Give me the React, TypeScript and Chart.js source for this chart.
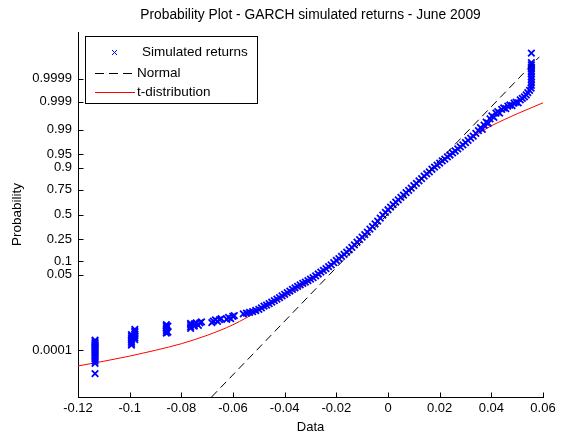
import React, { useEffect, useRef } from 'react';
import { Chart, registerables } from 'chart.js';

Chart.register(...registerables);

const TITLE = 'Probability Plot - GARCH simulated returns - June 2009';
const X_LABEL = 'Data';
const Y_LABEL = 'Probability';
const FONT = '"Liberation Sans", Arial, Helvetica, sans-serif';

const xTickValues = [-0.12, -0.1, -0.08, -0.06, -0.04, -0.02, 0, 0.02, 0.04, 0.06];
const xTickLabels = ['-0.12', '-0.1', '-0.08', '-0.06', '-0.04', '-0.02', '0', '0.02', '0.04', '0.06'];
const probTicks = [0.0001, 0.05, 0.1, 0.25, 0.5, 0.75, 0.9, 0.95, 0.99, 0.999, 0.9999];
const probLabels = ['0.0001', '0.05', '0.1', '0.25', '0.5', '0.75', '0.9', '0.95', '0.99', '0.999', '0.9999'];

// Sorted simulated returns and the normal scores of their plotting positions
const returns = [
  -0.1134, -0.1134, -0.1134, -0.1134, -0.1134, -0.1134, -0.1134, -0.1134, -0.1134, -0.1134, -0.1134, -0.1134, -0.1134, -0.1134, -0.1134, -0.1134,
  -0.0993, -0.0993, -0.0993, -0.0993, -0.0993, -0.0993, -0.0993,
  -0.0980, -0.0980, -0.0980, -0.0980, -0.0980, -0.0980, -0.0980,
  -0.0858, -0.0858, -0.0858, -0.0858, -0.0858, -0.0858, -0.0852, -0.0852,
  -0.0764, -0.0764, -0.0764, -0.0764, -0.0750, -0.0750, -0.0742, -0.0734, -0.0728, -0.0722,
  -0.0682, -0.0676, -0.0668, -0.0660, -0.0652, -0.0646,
  -0.0624, -0.0617, -0.0609, -0.0601, -0.0595,
  -0.0560, -0.0548, -0.0536, -0.0524, -0.0512, -0.0500, -0.0490, -0.0480, -0.0470, -0.0460,
  -0.0450, -0.0440, -0.0430, -0.0420, -0.0410, -0.0400, -0.0390, -0.0380, -0.0370, -0.0360,
  -0.0350, -0.0340, -0.0330, -0.0320, -0.0310, -0.0300, -0.0290, -0.0280, -0.0270, -0.0260,
  -0.0250, -0.0240, -0.0230, -0.0220, -0.0210, -0.0200, -0.0190, -0.0180, -0.0170, -0.0160,
  -0.0150, -0.0140, -0.0130, -0.0120, -0.0110, -0.0100, -0.0090, -0.0080, -0.0070, -0.0060,
  -0.0050, -0.0040, -0.0030, -0.0020, -0.0010, 0.0000, 0.0010, 0.0020, 0.0030, 0.0040,
  0.0050, 0.0060, 0.0070, 0.0080, 0.0090, 0.0100, 0.0110, 0.0120, 0.0130, 0.0140,
  0.0150, 0.0160, 0.0170, 0.0180, 0.0190, 0.0200, 0.0210, 0.0220, 0.0230, 0.0240,
  0.0250, 0.0260, 0.0270, 0.0280, 0.0290, 0.0300, 0.0310, 0.0320, 0.0330, 0.0340, 0.0350,
  0.0358, 0.0365, 0.0372, 0.0380, 0.0388, 0.0395, 0.0402, 0.0410, 0.0418, 0.0425,
  0.0432, 0.0440, 0.0448, 0.0456, 0.0464, 0.0472, 0.0480, 0.0488, 0.0496, 0.0504,
  0.0512, 0.0520, 0.0528, 0.0535, 0.0541, 0.0548, 0.0554,
  0.0555, 0.0555, 0.0555, 0.0555, 0.0555, 0.0555, 0.0555, 0.0555, 0.0555, 0.0555, 0.0555,
];
const returnScores = [
  -4.36, -4.08, -4.02, -3.96, -3.90, -3.85, -3.80, -3.76, -3.72, -3.68, -3.64, -3.60, -3.56, -3.52, -3.48, -3.44,
  -3.58, -3.53, -3.48, -3.43, -3.38, -3.33, -3.29,
  -3.43, -3.38, -3.33, -3.28, -3.23, -3.19, -3.15,
  -3.25, -3.20, -3.15, -3.10, -3.05, -3.02, -3.22, -3.06,
  -3.12, -3.07, -3.02, -2.98, -3.06, -3.00, -2.97, -3.04, -2.97, -2.94,
  -2.96, -2.92, -2.89, -2.93, -2.88, -2.85,
  -2.87, -2.82, -2.85, -2.79, -2.77,
  -2.72, -2.70, -2.68, -2.66, -2.63, -2.60, -2.56, -2.51, -2.48, -2.44,
  -2.40, -2.36, -2.32, -2.28, -2.23, -2.19, -2.14, -2.10, -2.05, -2.01,
  -1.97, -1.93, -1.89, -1.85, -1.81, -1.77, -1.73, -1.68, -1.63, -1.58,
  -1.53, -1.48, -1.43, -1.38, -1.32, -1.26, -1.21, -1.15, -1.09, -1.03,
  -0.97, -0.90, -0.83, -0.76, -0.69, -0.62, -0.55, -0.48, -0.40, -0.33,
  -0.26, -0.18, -0.10, -0.02, 0.06, 0.13, 0.20, 0.27, 0.34, 0.40,
  0.47, 0.53, 0.60, 0.66, 0.72, 0.79, 0.85, 0.92, 0.98, 1.05,
  1.11, 1.17, 1.24, 1.30, 1.35, 1.41, 1.47, 1.52, 1.58, 1.63,
  1.69, 1.74, 1.80, 1.85, 1.91, 1.97, 2.03, 2.09, 2.15, 2.22, 2.30,
  2.38, 2.33, 2.45, 2.53, 2.50, 2.62, 2.70, 2.66, 2.78, 2.82,
  2.78, 2.88, 2.92, 2.90, 2.97, 3.00, 2.98, 3.05, 3.08, 3.06,
  3.14, 3.18, 3.22, 3.28, 3.34, 3.40, 3.46,
  3.54, 3.62, 3.70, 3.78, 3.86, 3.92, 3.98, 4.04, 4.10, 4.16, 4.42,
];

// Fitted normal reference line (end points)
const normalX = [-0.0683, 0.0586];
const normalScores = [-5.0, 4.32];

// Fitted t-distribution curve
const tDistX = [-0.12, -0.11, -0.10, -0.09, -0.08, -0.07, -0.06, -0.05, -0.045, -0.04, -0.035, -0.03, -0.025, -0.02, -0.015, -0.01, -0.005, 0, 0.005, 0.01, 0.015, 0.02, 0.025, 0.03, 0.035, 0.04, 0.045, 0.05, 0.055, 0.06];
const tDistScores = [-4.15, -4.02, -3.88, -3.72, -3.54, -3.31, -3.02, -2.64, -2.45, -2.25, -2.05, -1.82, -1.57, -1.30, -1.00, -0.66, -0.28, 0.10, 0.45, 0.78, 1.10, 1.42, 1.70, 1.97, 2.22, 2.43, 2.60, 2.76, 2.91, 3.06];

// Inverse standard normal CDF (Acklam's rational approximation)
function probit(p: number): number {
  const a = [-39.69683028665376, 220.9460984245205, -275.9285104469687, 138.357751867269, -30.66479806614716, 2.506628277459239];
  const b = [-54.47609879822406, 161.5858368580409, -155.6989798598866, 66.80131188771972, -13.28068155288572];
  const c = [-0.007784894002430293, -0.3223964580411365, -2.400758277161838, -2.549732539343734, 4.374664141464968, 2.938163982698783];
  const d = [0.007784695709041462, 0.3224671290700398, 2.445134137142996, 3.754408661907416];
  const pl = 0.02425;
  if (p < pl) {
    const q = Math.sqrt(-2 * Math.log(p));
    return (((((c[0] * q + c[1]) * q + c[2]) * q + c[3]) * q + c[4]) * q + c[5]) / ((((d[0] * q + d[1]) * q + d[2]) * q + d[3]) * q + 1);
  }
  if (p > 1 - pl) {
    const q = Math.sqrt(-2 * Math.log(1 - p));
    return -(((((c[0] * q + c[1]) * q + c[2]) * q + c[3]) * q + c[4]) * q + c[5]) / ((((d[0] * q + d[1]) * q + d[2]) * q + d[3]) * q + 1);
  }
  const q = p - 0.5;
  const r = q * q;
  return (((((a[0] * r + a[1]) * r + a[2]) * r + a[3]) * r + a[4]) * r + a[5]) * q / (((((b[0] * r + b[1]) * r + b[2]) * r + b[3]) * r + b[4]) * r + 1);
}

const pairs = (xs: number[], ys: number[]) => xs.map((x, i) => ({ x, y: ys[i] }));

const BLUE = '#0000ff';
const RED = '#ff0000';

// Tick marks drawn on the inside of the axes
const inwardTicks = {
  id: 'inwardTicks',
  afterDatasetsDraw(chart: any) {
    const { ctx, chartArea, scales } = chart;
    ctx.save();
    ctx.strokeStyle = '#000';
    ctx.lineWidth = 1;
    ctx.beginPath();
    const left = Math.round(chartArea.left) + 0.5;
    const bottom = Math.round(chartArea.bottom) + 0.5;
    for (const t of scales.y.ticks) {
      const y = Math.round(scales.y.getPixelForValue(t.value)) + 0.5;
      ctx.moveTo(left, y);
      ctx.lineTo(left + 5, y);
    }
    for (const t of scales.x.ticks) {
      const x = Math.round(scales.x.getPixelForValue(t.value)) + 0.5;
      ctx.moveTo(x, bottom);
      ctx.lineTo(x, bottom - 5);
    }
    ctx.stroke();
    ctx.restore();
  },
};

// Title centred over the axes, plus the boxed legend in the top-left corner
const titleAndLegend = {
  id: 'titleAndLegend',
  afterDraw(chart: any) {
    const { ctx, chartArea } = chart;
    ctx.save();
    ctx.fillStyle = '#000';
    ctx.font = `13.8px ${FONT}`;
    ctx.textAlign = 'center';
    ctx.textBaseline = 'middle';
    ctx.fillText(TITLE, (chartArea.left + chartArea.right) / 2, 15);

    const bx = Math.round(chartArea.left) + 7;
    const by = Math.round(chartArea.top) + 4;
    ctx.fillStyle = '#fff';
    ctx.fillRect(bx, by, 172, 67);
    ctx.strokeStyle = '#000';
    ctx.lineWidth = 1;
    ctx.strokeRect(bx + 0.5, by + 0.5, 172, 67);

    const ds = chart.data.datasets;
    ctx.font = `13.5px ${FONT}`;
    ctx.textAlign = 'left';
    ctx.fillStyle = '#000';

    // scatter marker entry
    const y1 = by + 16.5;
    ctx.strokeStyle = BLUE;
    ctx.beginPath();
    ctx.moveTo(bx + 27, y1 - 2.5);
    ctx.lineTo(bx + 32, y1 + 2.5);
    ctx.moveTo(bx + 32, y1 - 2.5);
    ctx.lineTo(bx + 27, y1 + 2.5);
    ctx.stroke();
    ctx.fillText(ds[0].label, bx + 57, y1);

    // dashed normal line entry
    const y2 = by + 37.5;
    ctx.strokeStyle = '#000';
    ctx.setLineDash([9, 5]);
    ctx.beginPath();
    ctx.moveTo(bx + 10, y2);
    ctx.lineTo(bx + 50, y2);
    ctx.stroke();
    ctx.setLineDash([]);
    ctx.fillText(ds[1].label, bx + 52, y2);

    // t-distribution entry
    const y3 = by + 56.5;
    ctx.strokeStyle = RED;
    ctx.beginPath();
    ctx.moveTo(bx + 10, y3);
    ctx.lineTo(bx + 50, y3);
    ctx.stroke();
    ctx.fillText(ds[2].label, bx + 52, y3);
    ctx.restore();
  },
};

export default function App() {
  const canvasRef = useRef<HTMLCanvasElement | null>(null);

  useEffect(() => {
    const canvas = canvasRef.current;
    if (!canvas) return;
    const chart = new Chart(canvas, {
      type: 'scatter',
      data: {
        datasets: [
          {
            label: 'Simulated returns',
            data: pairs(returns, returnScores),
            pointStyle: 'crossRot',
            pointRadius: 4.6,
            borderColor: BLUE,
            backgroundColor: BLUE,
            borderWidth: 1.8,
            showLine: false,
            order: 2,
          },
          {
            label: 'Normal',
            data: pairs(normalX, normalScores),
            showLine: true,
            borderColor: '#000',
            borderWidth: 1,
            borderDash: [8, 5],
            pointRadius: 0,
            order: 1,
          },
          {
            label: 't-distribution',
            data: pairs(tDistX, tDistScores),
            showLine: true,
            borderColor: RED,
            borderWidth: 1,
            pointRadius: 0,
            cubicInterpolationMode: 'monotone',
            order: 3,
          },
        ],
      },
      options: {
        responsive: false,
        animation: false,
        devicePixelRatio: 1,
        layout: { padding: { top: 32, right: 19, left: 0, bottom: 0 } },
        plugins: {
          legend: { display: false },
          title: { display: false },
          tooltip: { enabled: false },
        },
        scales: {
          x: {
            type: 'linear',
            min: -0.12,
            max: 0.06,
            afterBuildTicks: (scale: any) => {
              scale.ticks = xTickValues.map((v) => ({ value: v }));
            },
            afterFit: (scale: any) => {
              scale.height = 40;
            },
            ticks: {
              autoSkip: false,
              maxRotation: 0,
              padding: 4,
              color: '#000',
              font: { family: FONT, size: 13 },
              callback: (_v: any, i: number) => xTickLabels[i],
            },
            grid: { display: true, drawOnChartArea: false, drawTicks: false },
            border: { display: true, color: '#000', width: 1 },
            title: {
              display: true,
              text: X_LABEL,
              color: '#000',
              font: { family: FONT, size: 13 },
              padding: { top: 0, bottom: 2 },
            },
          },
          y: {
            type: 'linear',
            min: -5,
            max: 5,
            afterBuildTicks: (scale: any) => {
              scale.ticks = probTicks.map((p) => ({ value: probit(p) }));
            },
            afterFit: (scale: any) => {
              scale.width = 78;
            },
            ticks: {
              autoSkip: false,
              padding: 6,
              color: '#000',
              font: { family: FONT, size: 13 },
              callback: (_v: any, i: number) => probLabels[i],
            },
            grid: { display: true, drawOnChartArea: false, drawTicks: false },
            border: { display: true, color: '#000', width: 1 },
            title: {
              display: true,
              text: Y_LABEL,
              color: '#000',
              font: { family: FONT, size: 13.5 },
              padding: { top: 9, bottom: 0 },
            },
          },
        },
      },
      plugins: [inwardTicks, titleAndLegend],
    });
    return () => chart.destroy();
  }, []);

  return (
    <div style={{ position: 'absolute', left: 0, top: 0, width: 562, height: 437, background: '#fff' }}>
      <canvas ref={canvasRef} width={562} height={437} style={{ width: 562, height: 437, display: 'block' }} />
    </div>
  );
}
